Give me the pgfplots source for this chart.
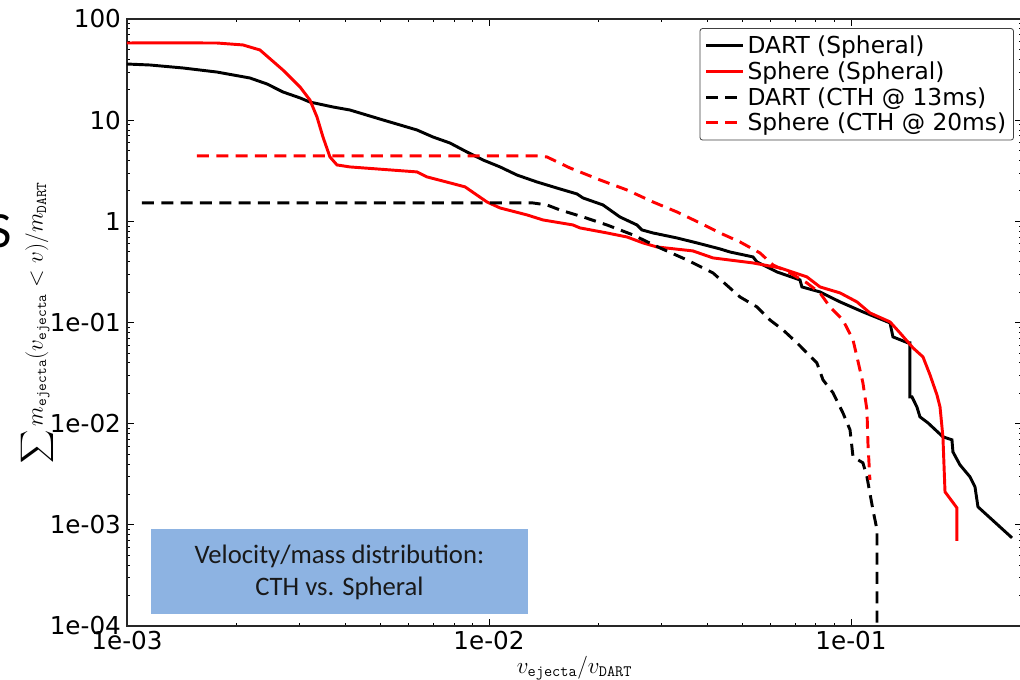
\documentclass[border=0pt]{standalone}
\usepackage{amsmath}
\usepackage{pgfplots}
\pgfplotsset{compat=1.18}
\usepackage{fontspec}
\setmainfont{DejaVu Sans}
\newfontfamily\carlito{Carlito}
\begin{document}
\begin{tikzpicture}
\path[use as bounding box] (-95.25pt,-39.75pt) rectangle (669.75pt,469.5pt);
\node[anchor=east,font=\carlito\fontsize{38}{38}\selectfont,inner sep=0pt] at (-86.25pt,296pt) {S};
\begin{axis}[
  at={(0,0)}, anchor=south west,
  scale only axis, width=671.25pt, height=455.25pt,
  xmode=log, ymode=log,
  xmin=1e-3, xmax=0.2968, ymin=1e-4, ymax=100,
  axis line style={line width=1pt, black!85},
  tick align=inside,
  major tick length=5pt, minor tick length=2.5pt,
  every tick/.style={black, line width=0.6pt},
  xtick={1e-3,1e-2,1e-1}, xticklabels={1e-03,1e-02,1e-01},
  ytick={1e-4,1e-3,1e-2,1e-1,1,10,100},
  yticklabels={1e-04,1e-03,1e-02,1e-01,1,10,100},
  tick label style={font=\fontsize{18.5}{22}\selectfont},
  xticklabel style={yshift=0pt},
  yticklabel style={xshift=-1pt},
  /pgf/number format/assume math mode=true,
  xlabel={$v_{\mathtt{ejecta}}/v_{\mathtt{DART}}$},
  ylabel={$\displaystyle\sum m_{\mathtt{ejecta}}(v_{\mathtt{ejecta}}<v)/m_{\mathtt{DART}}$},
  label style={font=\fontsize{17}{20}\selectfont},
  xlabel style={at={(axis description cs:0.5,0)}, anchor=center, yshift=-31.5pt},
  ylabel style={at={(axis description cs:-0.1006,0.5)}, anchor=center, font=\fontsize{16}{19}\selectfont},
  legend style={at={(axis description cs:0.991,0.985)}, anchor=north east,
    draw=black!75, line width=0.6pt, rounded corners=2pt,
    font=\fontsize{17.5}{21}\selectfont, row sep=0.5pt, inner sep=3.5pt},
  legend cell align=left,
  legend image code/.code={\draw[#1] (0pt,0pt) -- (28pt,0pt);},
]
\addplot[black, line width=2.2pt] coordinates {
(1e-3,35.9) (1.158e-3,35.1) (1.428e-3,32.8) (1.773e-3,29.9) (2.187e-3,26.1)
(2.436e-3,22.8) (2.697e-3,19.0) (3.006e-3,16.6) (3.203e-3,15.1) (3.708e-3,13.5)
(4.13e-3,12.6) (5.095e-3,10.05) (5.676e-3,8.97) (6.325e-3,8.0) (7.004e-3,6.82)
(7.80e-3,5.95) (8.69e-3,4.85) (9.63e-3,4.04) (1.073e-2,3.45) (1.195e-2,2.87)
(1.357e-2,2.45) (1.571e-2,2.09) (1.750e-2,1.866) (1.819e-2,1.703) (2.065e-2,1.452)
(2.30e-2,1.105) (2.563e-2,0.921) (2.647e-2,0.822) (2.838e-2,0.768) (3.306e-2,0.685)
(3.755e-2,0.612) (4.346e-2,0.534) (4.631e-2,0.498) (5.362e-2,0.445) (5.50e-2,0.397)
(6.245e-2,0.316) (7.23e-2,0.2636) (7.32e-2,0.2248) (8.21e-2,0.2006) (9.33e-2,0.1598)
(0.1079,0.1273) (0.1282,0.0991) (0.1306,0.0721) (0.1437,0.0629) (0.1455,0.0629)
(0.1455,0.0184) (0.1474,0.0184) (0.1521,0.01466) (0.1551,0.01167) (0.1632,0.01018)
(0.1795,0.00741) (0.1901,0.00692) (0.1913,0.00526) (0.2000,0.00392) (0.2132,0.00298)
(0.2201,0.00237) (0.2243,0.001506) (0.2785,0.000744)
};
\addlegendentry{DART (Spheral)}
\addplot[red, line width=2.2pt] coordinates {
(1e-3,57.9) (1.158e-3,58.2) (1.773e-3,57.9) (2.091e-3,55.4) (2.33e-3,49.4)
(2.697e-3,31.3) (3.006e-3,21.3) (3.203e-3,15.8) (3.349e-3,10.75) (3.479e-3,6.82)
(3.637e-3,4.33) (3.803e-3,3.61) (4.13e-3,3.45) (6.325e-3,3.08) (6.741e-3,2.75)
(7.80e-3,2.40) (8.59e-3,2.19) (9.87e-3,1.555) (1.073e-2,1.356) (1.274e-2,1.157)
(1.410e-2,1.032) (1.706e-2,0.921) (1.784e-2,0.861) (2.118e-2,0.768) (2.405e-2,0.701)
(2.664e-2,0.612) (2.911e-2,0.558) (3.66e-2,0.510) (4.157e-2,0.435) (5.362e-2,0.388)
(6.365e-2,0.3464) (7.556e-2,0.2823) (8.21e-2,0.2248) (9.33e-2,0.1961) (0.1039,0.1598)
(0.1128,0.1244) (0.1282,0.1014) (0.1366,0.0789) (0.1484,0.0561) (0.1581,0.0457)
(0.1653,0.0304) (0.1728,0.01926) (0.1762,0.01466) (0.1795,0.00741) (0.1819,0.00212)
(0.1962,0.001472) (0.1962,0.000695)
};
\addlegendentry{Sphere (Spheral)}
\addplot[black, line width=2.2pt, dash pattern=on 9pt off 5.5pt] coordinates {
(1.100e-3,1.52) (1.323e-2,1.52) (1.446e-2,1.452) (1.571e-2,1.296) (1.819e-2,1.105)
(2.118e-2,0.921) (2.50e-2,0.734) (2.968e-2,0.546) (3.524e-2,0.4155) (4.157e-2,0.3091)
(4.935e-2,0.179) (5.50e-2,0.1426) (5.97e-2,0.1061) (6.49e-2,0.0845) (7.094e-2,0.0629)
(7.556e-2,0.0501) (8.05e-2,0.0399) (8.37e-2,0.0271) (8.92e-2,0.0202) (9.50e-2,0.01279)
(9.94e-2,0.00869) (0.1013,0.00470) (0.1079,0.0041) (0.1107,0.00298) (0.1150,0.001406)
(0.1180,0.000893) (0.1180,0.0001)
};
\addlegendentry{DART (CTH @ 13ms)}
\addplot[red, line width=2.2pt, dash pattern=on 9pt off 5.5pt] coordinates {
(1.561e-3,4.43) (1.357e-2,4.43) (1.446e-2,4.33) (1.674e-2,3.37) (2.026e-2,2.566)
(2.405e-2,2.043) (2.838e-2,1.555) (3.306e-2,1.238) (3.827e-2,0.964) (4.346e-2,0.768)
(4.935e-2,0.626) (5.606e-2,0.487) (6.088e-2,0.371) (6.784e-2,0.3091) (7.556e-2,0.2462)
(8.21e-2,0.1961) (8.75e-2,0.1426) (9.50e-2,0.1061) (0.1013,0.0673) (0.1039,0.0457)
(0.1079,0.0253) (0.1107,0.01369) (0.1114,0.00646) (0.1128,0.00278)
};
\addlegendentry{Sphere (CTH @ 20ms)}
\fill[fill={rgb,255:red,141;green,179;blue,226}] (rel axis cs:0.0268,0.0198) rectangle (rel axis cs:0.448,0.1598);
\node[align=center, font=\carlito\fontsize{20}{24}\selectfont, text=black!90] at (rel axis cs:0.2374,0.0880) {Velocity/mass distribution:\\CTH vs. Spheral};
\end{axis}
\end{tikzpicture}
\end{document}
